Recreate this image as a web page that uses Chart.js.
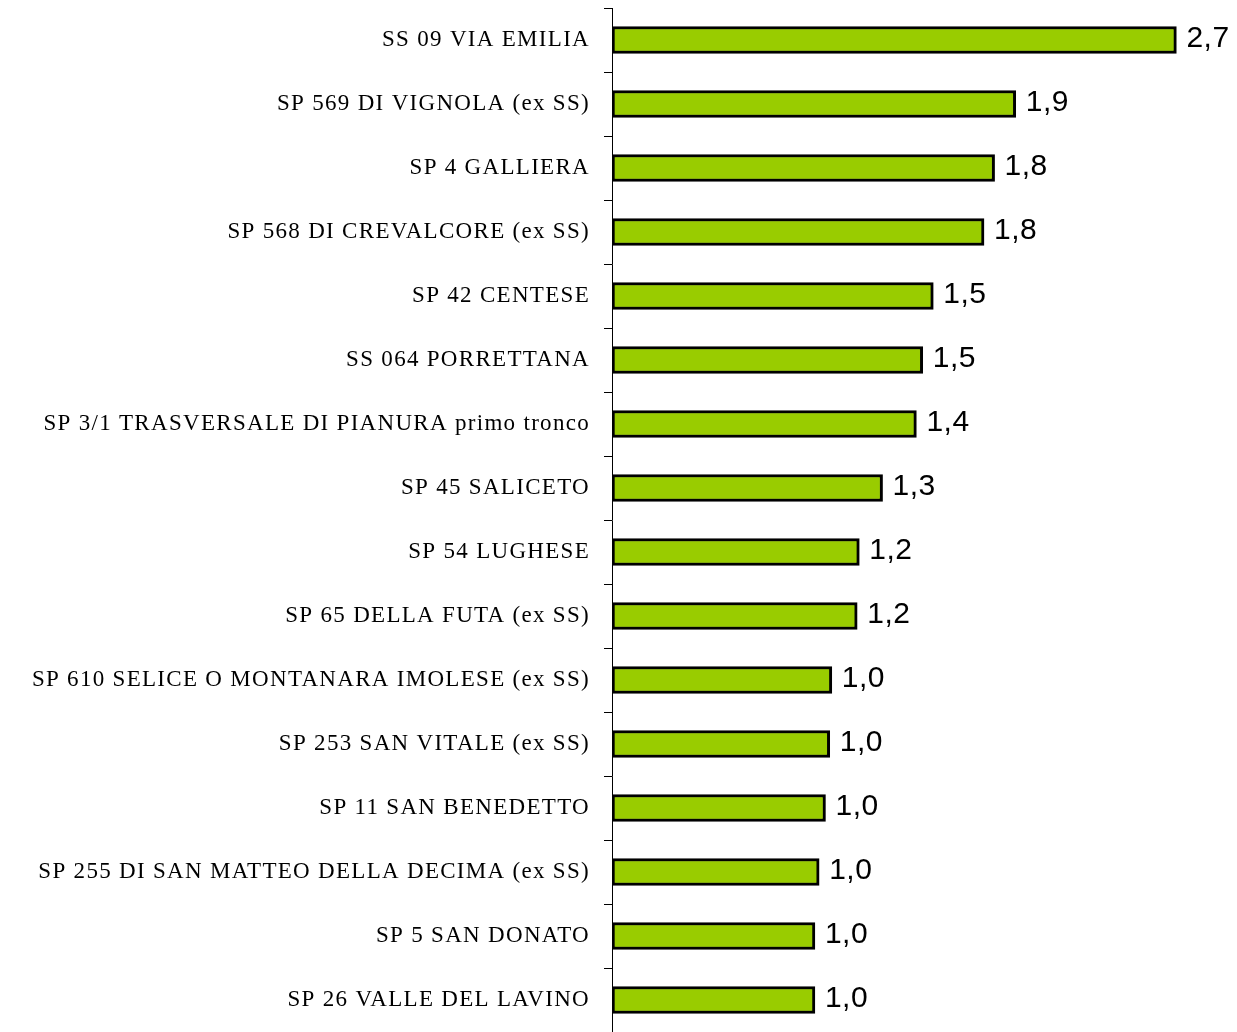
<!DOCTYPE html>
<html>
<head>
<meta charset="utf-8">
<script src="https://cdn.jsdelivr.net/npm/chart.js@4.4.1/dist/chart.umd.min.js"></script>
<style>
  html, body { margin: 0; padding: 0; background: #fff; overflow: hidden; }
  #wrap { width: 1237px; height: 1032px; }
</style>
</head>
<body>
<div id="wrap"><canvas id="chart"></canvas></div>
<script>
// road names (top to bottom)
const roads = [
  'SS 09 VIA EMILIA',
  'SP 569 DI VIGNOLA (ex SS)',
  'SP 4 GALLIERA',
  'SP 568 DI CREVALCORE (ex SS)',
  'SP 42 CENTESE',
  'SS 064 PORRETTANA',
  'SP 3/1 TRASVERSALE DI PIANURA primo tronco',
  'SP 45 SALICETO',
  'SP 54 LUGHESE',
  'SP 65 DELLA FUTA (ex SS)',
  'SP 610 SELICE O MONTANARA IMOLESE (ex SS)',
  'SP 253 SAN VITALE (ex SS)',
  'SP 11 SAN BENEDETTO',
  'SP 255 DI SAN MATTEO DELLA DECIMA (ex SS)',
  'SP 5 SAN DONATO',
  'SP 26 VALLE DEL LAVINO'
];

// values
const values = [2.67, 1.91, 1.81, 1.76, 1.52, 1.47, 1.44, 1.28, 1.17, 1.16, 1.04, 1.03, 1.01, 0.98, 0.96, 0.96];

// spaced-out serif labels like the original
const spacing = {
  id: 'spacing',
  beforeDraw(chart) { chart.ctx.letterSpacing = '1.3px'; },
  beforeDatasetsDraw(chart) { chart.ctx.letterSpacing = '0px'; }
};

// value labels at the end of each bar
const valueLabels = {
  id: 'valueLabels',
  afterDatasetsDraw(chart) {
    const ctx = chart.ctx;
    const meta = chart.getDatasetMeta(0);
    ctx.save();
    ctx.letterSpacing = '0.5px';
    ctx.font = '30px "Liberation Sans", Arial, sans-serif';
    ctx.fillStyle = '#000';
    ctx.textAlign = 'left';
    ctx.textBaseline = 'middle';
    meta.data.forEach((bar, i) => {
      const txt = values[i].toFixed(1).replace('.', ',');
      ctx.fillText(txt, bar.x + 10, bar.y - 1);
    });
    ctx.restore();
  }
};

new Chart(document.getElementById('chart'), {
  type: 'bar',
  data: {
    labels: roads,
    datasets: [{
      data: values,
      backgroundColor: '#99cc00',
      borderColor: '#000',
      borderWidth: 3,
      borderSkipped: false,
      barThickness: 27
    }]
  },
  options: {
    indexAxis: 'y',
    responsive: true,
    maintainAspectRatio: false,
    animation: false,
    layout: { padding: { top: 8, right: 12, bottom: 0, left: 0 } },
    plugins: {
      legend: { display: false },
      tooltip: { enabled: false }
    },
    scales: {
      x: {
        display: false,
        min: 0,
        max: 2.9
      },
      y: {
        afterFit(scale) {
          scale.width = 612;
          scale.paddingTop = 0;
          scale.paddingBottom = 0;
        },
        grid: {
          display: true,
          drawOnChartArea: false,
          drawTicks: true,
          tickLength: 8,
          offset: true,
          color: '#000'
        },
        border: { display: true, color: '#000', width: 1 },
        ticks: {
          color: '#000',
          padding: 14,
          font: { family: '"Liberation Serif", "Times New Roman", serif', size: 23 }
        }
      }
    }
  },
  plugins: [spacing, valueLabels]
});
</script>
</body>
</html>
